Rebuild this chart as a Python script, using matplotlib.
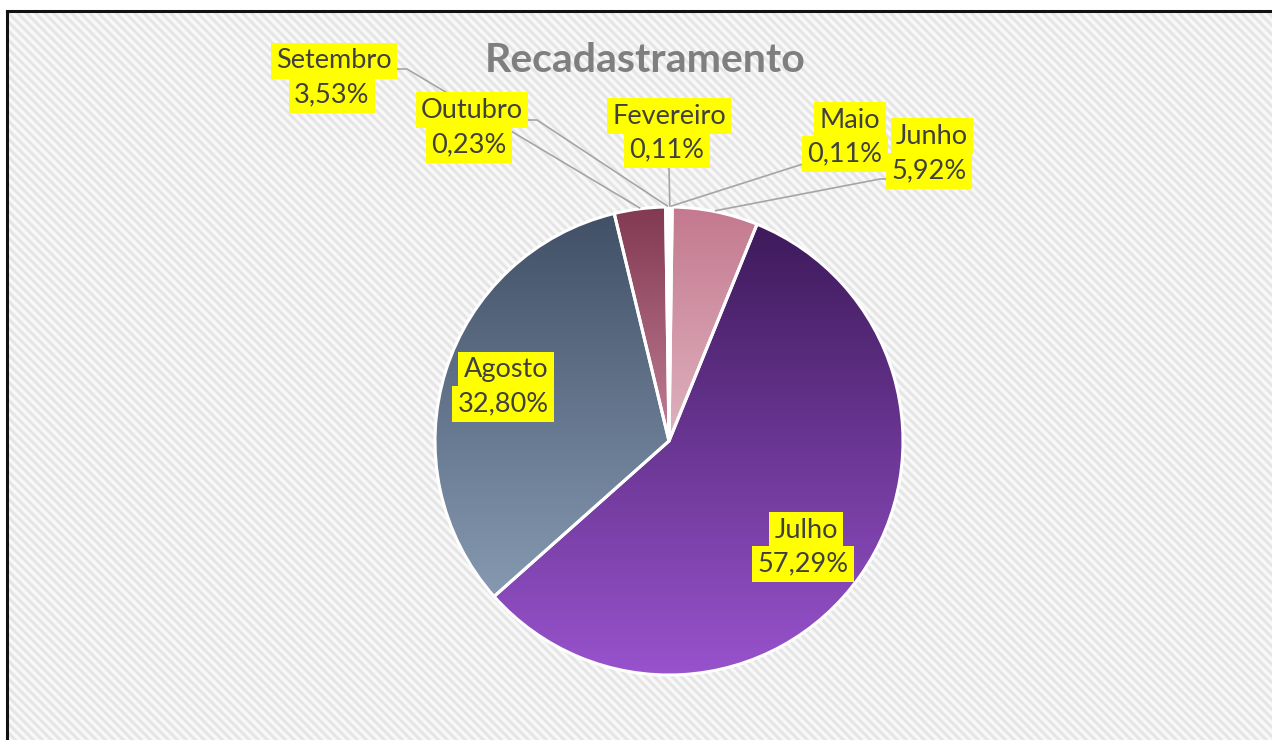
import numpy as np
import matplotlib
matplotlib.use('Agg')
import matplotlib.pyplot as plt
from matplotlib.colors import LinearSegmentedColormap

# ---------------- data ----------------
months = ['Fevereiro', 'Maio', 'Junho', 'Julho', 'Agosto', 'Setembro', 'Outubro']
shares = [0.11, 0.11, 5.92, 57.29, 32.80, 3.53, 0.23]
pct_labels = ['0,11%', '0,11%', '5,92%', '57,29%', '32,80%', '3,53%', '0,23%']
title = 'Recadastramento'

# ---------------- style ----------------
grad_top = ['#f3f3f3', '#f1eff1', '#c4798f', '#3e1a5b', '#415067', '#823952', '#f3f0f2']
grad_bot = ['#fbfbfb', '#faf8fa', '#dfb2bf', '#9853cd', '#8599b0', '#c07e94', '#fbf8fa']

W, H = 1272, 740
CX, CY, R = 669, 441, 234          # pie centre / radius in pixels (y from top)

# label layout: (line1 centre, line2 centre, elbow points) in pixels (y from top)
layout = {
    'Fevereiro': ((669, 116), (667, 150), [(669, 167)]),
    'Maio':      ((850, 120), (845, 154), [(818, 163), (806, 163)]),
    'Junho':     ((932, 136), (929, 171), [(893, 179), (880, 179)]),
    'Julho':     ((806, 530), (803, 564), []),
    'Agosto':    ((506, 370), (503, 404), []),
    'Setembro':  ((334, 61), (332, 95), [(396, 69), (407, 69)]),
    'Outubro':   ((472, 110), (469, 145), [(526, 120), (537, 120)]),
}

plt.rcParams['font.family'] = ['Lato', 'DejaVu Sans']

fig = plt.figure(figsize=(W / 100, H / 100), dpi=100)
fig.patch.set_facecolor('white')
ax = fig.add_axes([0, 0, 1, 1])


def Y(y):
    return H - y


# ---- striped background (inside the border) ----
rows, cols = np.mgrid[0:H, 0:W]
period = 9.0
phase = ((cols - rows) % period) / period
tri = np.abs(phase - 0.5) * 2          # 0..1 triangular
light, dark = 0.98, 0.895
val = dark + (light - dark) * np.clip((tri - 0.2) / 0.6, 0, 1)
bg = np.dstack([val, val, val])
bg[:11, :, :] = 1.0
bg[:, :7, :] = 1.0
ax.imshow(bg, extent=(0, W, 0, H), origin='upper', zorder=0, interpolation='nearest')

# border lines (left and top)
ax.plot([7, 7], [Y(11), 0], color='#111111', lw=2.2, zorder=1, solid_capstyle='projecting')
ax.plot([7, W], [Y(11), Y(11)], color='#111111', lw=2.2, zorder=1, solid_capstyle='projecting')

# ---- pie ----
wedges, _ = ax.pie(shares, startangle=90, counterclock=False, center=(CX, Y(CY)),
                   radius=R, frame=True,
                   wedgeprops=dict(edgecolor='white', linewidth=2.2))

grad = np.linspace(0, 1, 256).reshape(-1, 1)
for w, c0, c1 in zip(wedges, grad_top, grad_bot):
    ext = w.get_path().get_extents()
    cmap = LinearSegmentedColormap.from_list('g', [c0, c1])
    im = ax.imshow(grad, cmap=cmap, extent=(ext.x0, ext.x1, ext.y0, ext.y1),
                   origin='upper', aspect='auto', zorder=2, interpolation='bilinear')
    im.set_clip_path(w)
    w.set_facecolor('none')
    w.set_zorder(3)

# ---- labels and leader lines ----
FS = 19.5
box = dict(boxstyle='square,pad=0.2', facecolor='#ffff00', edgecolor='none')
for w, name, pct in zip(wedges, months, pct_labels):
    (x1, y1), (x2, y2), elbow = layout[name]
    ax.text(x1, Y(y1), name, ha='center', va='center', fontsize=FS,
            color='#404040', bbox=box, zorder=6)
    ax.text(x2, Y(y2), pct, ha='center', va='center', fontsize=FS,
            color='#404040', bbox=box, zorder=6)
    if elbow:
        th = np.deg2rad((w.theta1 + w.theta2) / 2)
        ex = CX + (R + 1) * np.cos(th)
        ey = Y(CY) + (R + 1) * np.sin(th)
        xs = [p[0] for p in elbow] + [ex]
        ys = [Y(p[1]) for p in elbow] + [ey]
        ax.plot(xs, ys, color='#a5a5a5', lw=1.2, zorder=5)

ax.text(645, Y(60), title, ha='center', va='center', fontsize=29.5,
        fontweight='bold', color='#7f7f7f', zorder=6)

ax.set_xlim(0, W)
ax.set_ylim(0, H)
ax.set_aspect('equal')
ax.axis('off')

fig.savefig('out.png', dpi=100)
